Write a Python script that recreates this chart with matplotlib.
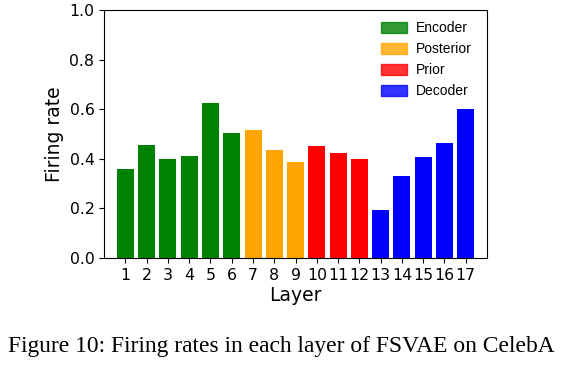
import matplotlib
matplotlib.use("Agg")
import matplotlib.pyplot as plt
import matplotlib.patches as mpatches

layers = list(range(1, 18))
firing_rates = [0.359, 0.456, 0.401, 0.411, 0.624, 0.504,
                0.515, 0.435, 0.387,
                0.450, 0.422, 0.398,
                0.195, 0.331, 0.407, 0.464, 0.601]
groups = ["Encoder"] * 6 + ["Posterior"] * 3 + ["Prior"] * 3 + ["Decoder"] * 5
group_names = ["Encoder", "Posterior", "Prior", "Decoder"]
group_colors = {"Encoder": "green", "Posterior": "orange", "Prior": "red", "Decoder": "blue"}

fig = plt.figure(figsize=(5.63, 3.66), dpi=100)
ax = fig.add_axes([0.185, 0.295, 0.68, 0.678])

# une couleur par bloc du réseau
bar_colors = [group_colors[g] for g in groups]
ax.bar(layers, firing_rates, width=0.8, color=bar_colors)

handles = [mpatches.Patch(color=group_colors[g], alpha=0.8, label=g) for g in group_names]
ax.legend(handles=handles, loc="upper right", bbox_to_anchor=(0.974, 0.976),
          borderaxespad=0, frameon=False,
          prop={"family": "Liberation Sans", "size": 10},
          handlelength=1.9, handleheight=0.8, labelspacing=0.5,
          handletextpad=0.6)

ax.set_xlim(0, 18)
ax.set_ylim(0, 1.0)
ax.set_xticks(layers)
ax.tick_params(labelsize=11.3)
ax.set_xlabel("Layer", fontsize=13.5, labelpad=2)
ax.set_ylabel("Firing rate", fontsize=13.5)

fig.text(0.5, 0.052, "Figure 10: Firing rates in each layer of FSVAE on CelebA",
         ha="center", va="center", family="Liberation Serif", fontsize=16.9)

fig.savefig("out.png", dpi=100)
